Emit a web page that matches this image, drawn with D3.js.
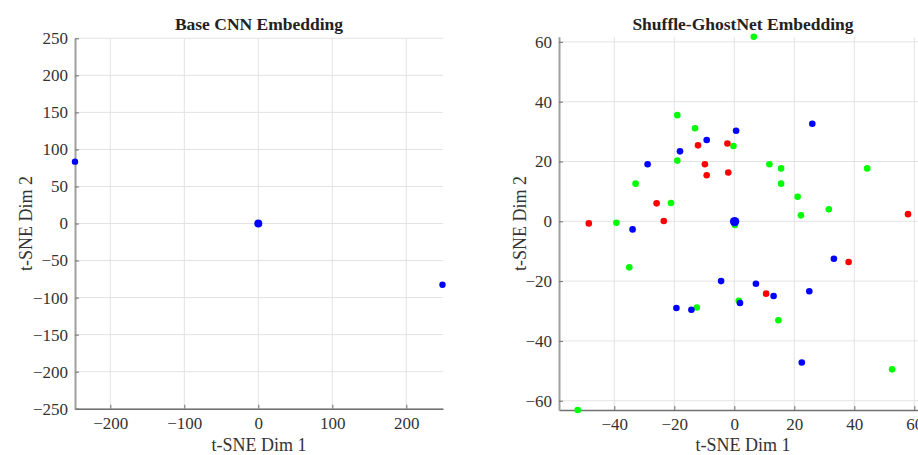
<!DOCTYPE html>
<html><head><meta charset="utf-8">
<script src="https://cdn.jsdelivr.net/npm/d3@7"></script>
<style>
body{margin:0;background:#fff;}
svg{display:block;}
</style></head>
<body>
<svg id="chart" width="918" height="455"></svg>
<script>
// ---------- data ----------
// Panel 1: Base CNN Embedding (only blue class visible)
const baseBlueX = [-247.7, 248.9];
const baseBlueY = [83.5, -82.7];
const baseCenter = [[0, 0]];
const baseXTicks = [-200, -100, 0, 100, 200];
const baseYTicks = [-250, -200, -150, -100, -50, 0, 50, 100, 150, 200, 250];

// Panel 2: Shuffle-GhostNet Embedding
const sgRedX = [-12.1, -2.3, -9.8, -9.2, -2.0, -25.9, 57.9, -48.5, -23.5, 38.1, 10.6];
const sgRedY = [25.4, 26.0, 19.1, 15.4, 16.3, 6.0, 2.4, -0.7, 0.1, -13.6, -24.2];
const sgGreenX = [6.5, -19.0, -13.1, -0.3, -19.0, 11.7, 15.6, 15.6, 44.3, -32.9, -21.1, 21.1, 22.2, 31.5, -39.3, 0.2, -35.0, 1.5, -12.5, 14.7, 52.6, -52.2];
const sgGreenY = [61.7, 35.5, 31.1, 25.2, 20.3, 19.1, 17.7, 12.6, 17.7, 12.6, 6.1, 8.2, 2.0, 4.0, -0.5, -1.2, -15.4, -26.6, -28.8, -33.1, -49.5, -63.1];
const sgBlueX = [26.0, 0.6, -9.2, -18.1, -28.9, -33.9, 33.2, -4.4, 7.2, 13.1, 25.0, 1.9, -19.3, -14.3, 22.5];
const sgBlueY = [32.6, 30.3, 27.2, 23.4, 19.1, -2.7, -12.5, -20.0, -20.9, -25.0, -23.4, -27.3, -29.0, -29.6, -47.2];
const sgCenter = [[0.1, -0.1]];
const sgXTicks = [-40, -20, 0, 20, 40, 60];
const sgYTicks = [-60, -40, -20, 0, 20, 40, 60];

const titles = ["Base CNN Embedding", "Shuffle-GhostNet Embedding"];
const xLabel = "t-SNE Dim 1";
const yLabel = "t-SNE Dim 2";

const FONT = "Liberation Serif";
const zip = (xs, ys) => xs.map((x, i) => [x, ys[i]]);

const panels = [
  {
    title: titles[0], left: 75, right: 443, top: 38.3, bottom: 408.7,
    xDomain: [-247.7, 249.6], yDomain: [-250, 250],
    xTicks: baseXTicks, yTicks: baseYTicks,
    series: [
      {pts: zip(baseBlueX, baseBlueY), color: "#0000ff", r: 3.2},
      {pts: baseCenter, color: "#0000ff", r: 4}
    ],
    yLabelX: 32
  },
  {
    title: titles[1], left: 559, right: 927, top: 36.8, bottom: 410,
    xDomain: [-58.43, 64.23], yDomain: [-63.1, 61.7],
    xTicks: sgXTicks, yTicks: sgYTicks,
    series: [
      {pts: zip(sgGreenX, sgGreenY), color: "#00ff00", r: 3.3},
      {pts: zip(sgRedX, sgRedY), color: "#ff0000", r: 3.3},
      {pts: zip(sgBlueX, sgBlueY), color: "#0000ff", r: 3.3},
      {pts: sgCenter, color: "#0000ff", r: 4.7}
    ],
    yLabelX: 526
  }
];

const svg = d3.select("#chart").style("font-family", FONT);
const fmt = d3.format("");

panels.forEach(p => {
  const x = d3.scaleLinear().domain(p.xDomain).range([p.left, p.right]);
  const y = d3.scaleLinear().domain(p.yDomain).range([p.bottom, p.top]);
  const g = svg.append("g");

  // grid
  g.append("g").selectAll("line").data(p.xTicks).join("line")
    .attr("x1", d => x(d)).attr("x2", d => x(d))
    .attr("y1", p.top).attr("y2", p.bottom)
    .attr("stroke", "#e3e3e3").attr("stroke-width", 1);
  g.append("g").selectAll("line").data(p.yTicks).join("line")
    .attr("x1", p.left).attr("x2", p.right)
    .attr("y1", d => y(d)).attr("y2", d => y(d))
    .attr("stroke", "#e3e3e3").attr("stroke-width", 1);

  // axes
  const xAxis = d3.axisBottom(x).tickValues(p.xTicks).tickFormat(fmt)
    .tickSizeInner(-4).tickSizeOuter(0).tickPadding(8);
  const yAxis = d3.axisLeft(y).tickValues(p.yTicks).tickFormat(fmt)
    .tickSizeInner(-4).tickSizeOuter(0).tickPadding(7);

  const gx = g.append("g").attr("transform", `translate(0,${p.bottom})`).call(xAxis)
    .attr("font-family", null).attr("font-size", null);
  gx.select(".domain").attr("stroke", "#707070").attr("stroke-width", 1.5);
  gx.selectAll(".tick line").attr("stroke", "#707070");
  gx.selectAll(".tick text").style("font-size", "17px").attr("fill", "#333")
    .style("font-family", FONT);

  const gy = g.append("g").attr("transform", `translate(${p.left},0)`).call(yAxis)
    .attr("font-family", null).attr("font-size", null);
  gy.select(".domain").attr("stroke", "#a0a0a0").attr("stroke-width", 2);
  gy.selectAll(".tick line").attr("stroke", "#707070");
  gy.selectAll(".tick text").style("font-size", "17px").attr("fill", "#333")
    .style("font-family", FONT);

  // points
  p.series.forEach(s => {
    g.append("g").selectAll("circle").data(s.pts).join("circle")
      .attr("cx", d => x(d[0])).attr("cy", d => y(d[1]))
      .attr("r", s.r).attr("fill", s.color);
  });

  const cx = (p.left + p.right) / 2;
  // title
  g.append("text").attr("x", cx).attr("y", 30).attr("text-anchor", "middle")
    .style("font-size", "17.5px").style("font-weight", "bold").style("font-family", FONT)
    .attr("fill", "#222").text(p.title);
  // x label
  g.append("text").attr("x", cx).attr("y", 451).attr("text-anchor", "middle")
    .style("font-size", "18px").style("font-family", FONT)
    .attr("fill", "#333").text(xLabel);
  // y label
  g.append("text").attr("transform", `translate(${p.yLabelX},${(p.top + p.bottom) / 2}) rotate(-90)`)
    .attr("text-anchor", "middle").style("font-size", "18px").style("font-family", FONT)
    .attr("fill", "#333").text(yLabel);
});
</script>
</body></html>
